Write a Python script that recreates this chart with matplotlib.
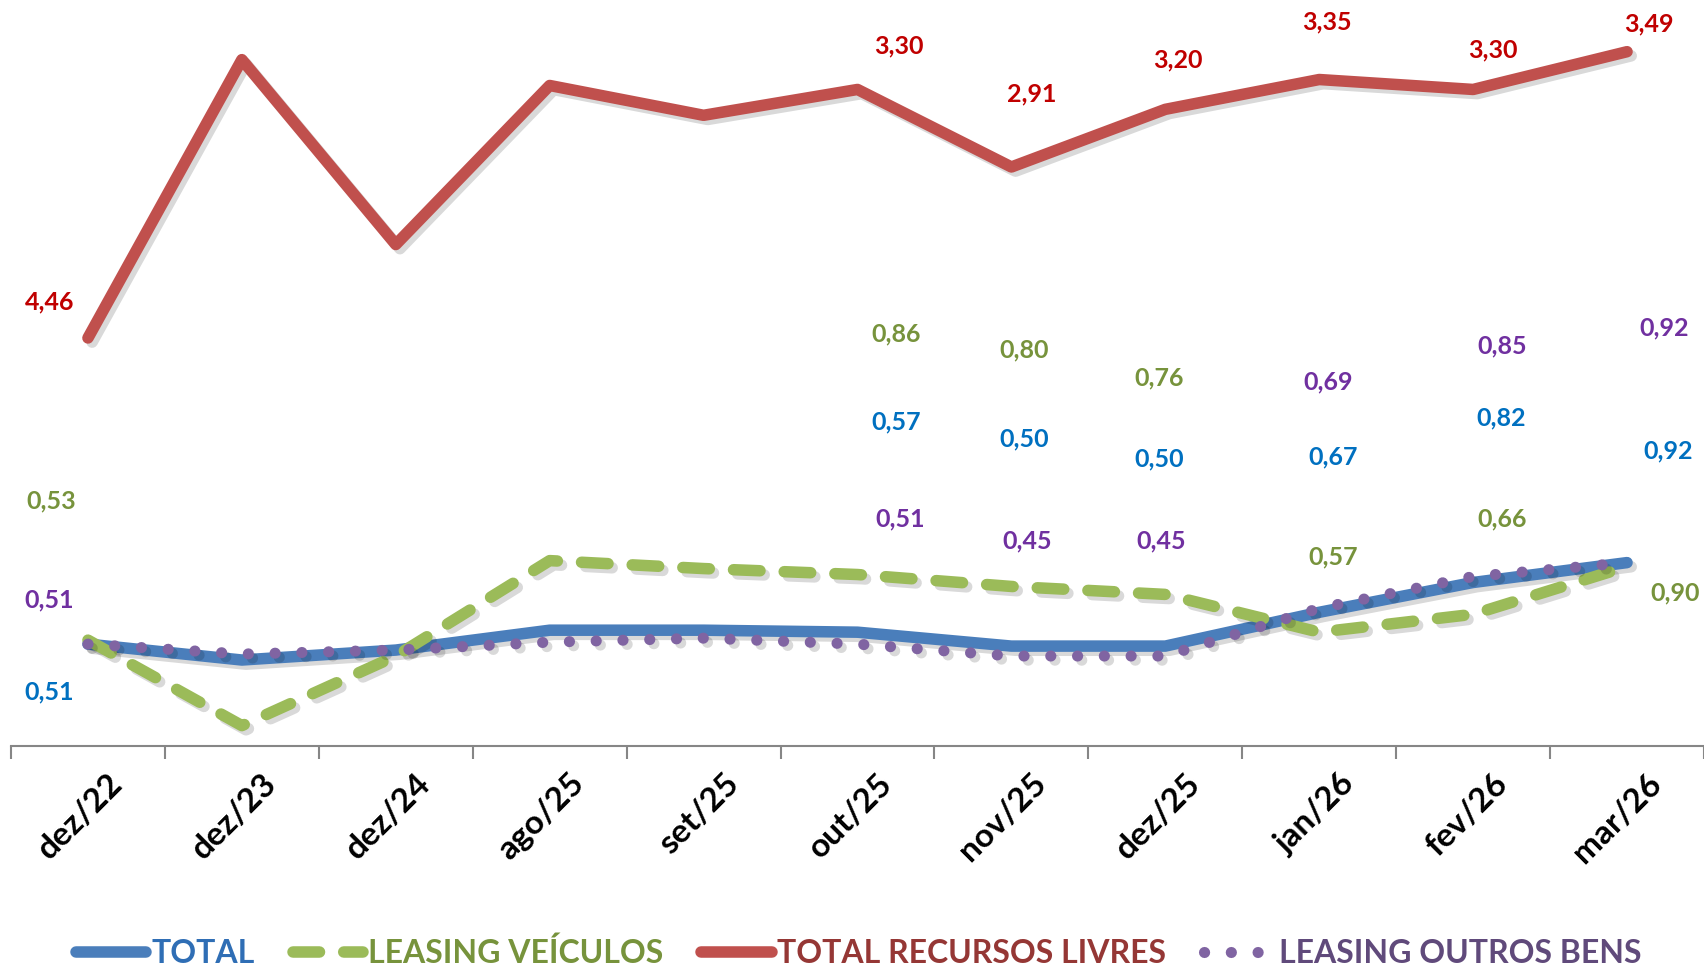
import numpy as np
import matplotlib
matplotlib.use("Agg")
import matplotlib.pyplot as plt
import matplotlib.patheffects as pe
from matplotlib.lines import Line2D
from matplotlib.transforms import ScaledTranslation

months = ["dez/22", "dez/23", "dez/24", "ago/25", "set/25", "out/25",
          "nov/25", "dez/25", "jan/26", "fev/26", "mar/26"]

# line values
total = [0.51, 0.43, 0.48, 0.58, 0.58, 0.57, 0.50, 0.50, 0.67, 0.82, 0.92]
leasing_veic = [0.53, 0.10, 0.45, 0.93, 0.89, 0.86, 0.80, 0.76, 0.57, 0.66, 0.90]
recursos_livres = [2.05, 3.45, 2.52, 3.32, 3.17, 3.30, 2.91, 3.20, 3.35, 3.30, 3.49]
leasing_outros = [0.51, 0.46, 0.48, 0.52, 0.54, 0.51, 0.45, 0.45, 0.69, 0.85, 0.92]

# data label texts (None = no label shown)
lbl_total = ["0,51", None, None, None, None, "0,57", "0,50", "0,50", "0,67", "0,82", "0,92"]
lbl_veic = ["0,53", None, None, None, None, "0,86", "0,80", "0,76", "0,57", "0,66", "0,90"]
lbl_livres = ["4,46", None, None, None, None, "3,30", "2,91", "3,20", "3,35", "3,30", "3,49"]
lbl_outros = ["0,51", None, None, None, None, "0,51", "0,45", "0,45", "0,69", "0,85", "0,92"]

# where the labels sit (x, y in data units) - layout only
pos_total = [(-0.25, 0.27), None, None, None, None, (5.25, 1.63), (6.08, 1.54),
             (6.96, 1.44), (8.09, 1.45), (9.18, 1.65), (10.27, 1.48)]
pos_veic = [(-0.24, 1.23), None, None, None, None, (5.25, 2.07), (6.08, 1.99),
            (6.96, 1.85), (8.09, 0.95), (9.19, 1.14), (10.31, 0.77)]
pos_livres = [(-0.25, 2.23), None, None, None, None, (5.27, 3.52), (6.13, 3.28),
              (7.08, 3.45), (8.05, 3.64), (9.13, 3.50), (10.14, 3.63)]
pos_outros = [(-0.25, 0.73), None, None, None, None, (5.28, 1.14), (6.10, 1.03),
              (6.97, 1.03), (8.06, 1.83), (9.19, 2.01), (10.24, 2.10)]

c_blue, c_green, c_red, c_purple = "#4A7EBB", "#9BBB59", "#C0504D", "#8064A2"
lw = 8.3

fig = plt.figure(figsize=(17.04, 9.68), dpi=100)
ax = fig.add_axes([11 / 1704, 1 - 745.5 / 968, 1 - 11 / 1704, 745.5 / 968])
x = np.arange(len(months))

shadow = [pe.SimpleLineShadow(offset=(3, -3), shadow_color="k", alpha=0.15), pe.Normal()]

ax.plot(x, total, color=c_blue, lw=lw, solid_capstyle="round",
        solid_joinstyle="round", path_effects=shadow, zorder=3)
ax.plot(x, leasing_veic, color=c_green, lw=lw, linestyle=(0, (2.3, 2.1)),
        dash_capstyle="round", dash_joinstyle="round", path_effects=shadow, zorder=4)
ax.plot(x, recursos_livres, color=c_red, lw=lw, solid_capstyle="round",
        solid_joinstyle="round", path_effects=shadow, zorder=5)
ax.plot(x, leasing_outros, color=c_purple, lw=8, linestyle=(0, (0.01, 2.4)),
        dash_capstyle="round", path_effects=shadow, zorder=6)

lab_font = ["Lato", "DejaVu Sans"]
for texts, poss, col in [(lbl_total, pos_total, "#0070C0"),
                         (lbl_veic, pos_veic, "#77933C"),
                         (lbl_livres, pos_livres, "#C00000"),
                         (lbl_outros, pos_outros, "#7030A0")]:
    for t, p in zip(texts, poss):
        if t is None:
            continue
        ax.text(p[0], p[1], t, color=col, fontsize=18, fontweight="bold",
                family=lab_font, ha="center", va="center", zorder=10)

ax.set_xlim(-0.5, 10.5)
ax.set_ylim(0, 3.75)
ax.yaxis.set_visible(False)
for s in ["left", "right", "top"]:
    ax.spines[s].set_visible(False)
ax.spines["bottom"].set_color("#868686")
ax.spines["bottom"].set_linewidth(1.5)

ax.set_xticks(x)
ax.set_xticks(np.arange(-0.5, 10.6, 1), minor=True)
ax.tick_params(axis="x", which="major", length=0, pad=24)
ax.tick_params(axis="x", which="minor", length=9, width=1.5, color="#868686")
ax.set_xticklabels(months, rotation=45, ha="right", va="center",
                   rotation_mode="anchor", fontsize=24, fontweight="bold",
                   family=["Lato", "DejaVu Sans"], color="black")
for tl in ax.get_xticklabels():
    tl.set_transform(tl.get_transform() + ScaledTranslation(0.30, 0, fig.dpi_scale_trans))

handles = [
    Line2D([], [], color=c_blue, lw=lw, solid_capstyle="round"),
    Line2D([], [], color=c_green, lw=lw, linestyle=(0, (2.3, 2.1)), dash_capstyle="round"),
    Line2D([], [], color=c_red, lw=lw, solid_capstyle="round"),
    Line2D([], [], color=c_purple, lw=8, linestyle=(0, (0.01, 2.4)), dash_capstyle="round"),
]
names = ["TOTAL", "LEASING VEÍCULOS", "TOTAL RECURSOS LIVRES", "LEASING OUTROS BENS"]
leg = fig.legend(handles, names, loc="center", bbox_to_anchor=(0.504, 0.016),
                 ncol=4, frameon=False, handlelength=2.2, handletextpad=0.15,
                 columnspacing=1.2, prop={"family": ["Lato", "DejaVu Sans"],
                                          "weight": "bold", "size": 23})
for t, col in zip(leg.get_texts(), ["#2F6EB5", "#77933C", "#953735", "#604A7B"]):
    t.set_color(col)

fig.savefig("out.png", dpi=100)
